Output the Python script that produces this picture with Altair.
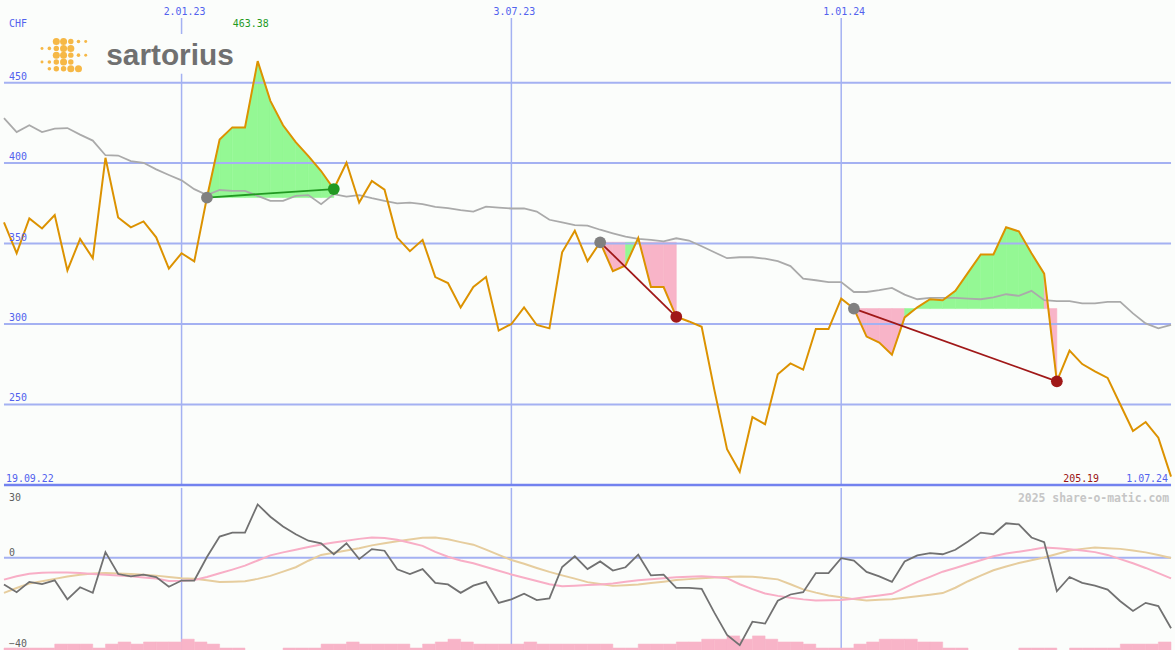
import altair as alt
import pandas as pd

# Weekly closes (CHF), one point per week
price = [363.1, 344.0, 365.6, 359.4, 367.7, 333.3, 352.9, 340.9, 403.3, 366.2,
         360.1, 363.8, 353.9, 334.4, 344.0, 338.9, 378.6, 414.6, 422.2, 422.2,
         463.38, 438.7, 423.5, 413.0, 404.3, 395.1, 383.9, 400.2, 375.5, 388.9,
         383.5, 353.7, 345.3, 352.3, 329.2, 325.5, 310.3, 323.0, 329.2, 295.9,
         300.0, 310.3, 299.4, 297.3, 344.6, 358.0, 339.1, 350.8, 332.9, 336.4,
         353.5, 323.0, 323.0, 304.5, 301.6, 298.3, 259.1, 222.2, 208.2, 242.2,
         237.7, 268.8, 275.5, 271.6, 296.9, 296.9, 315.8, 309.6, 292.2, 288.5,
         280.9, 304.1, 310.4, 315.4, 314.8, 320.6, 331.9, 343.2, 343.2, 360.1,
         357.6, 344.0, 331.3, 264.4, 283.5, 275.1, 270.6, 266.5, 250.0, 233.5,
         239.1, 229.4, 205.19]

# Moving average of the close
moving_avg = [428.0, 419.3, 423.5, 419.3, 421.4, 421.8, 417.7, 414.0, 404.9, 404.7,
              401.2, 400.2, 396.1, 392.6, 389.3, 383.8, 380.2, 383.3, 382.7, 382.7,
              379.6, 376.5, 376.5, 379.6, 380.1, 374.5, 380.7, 379.2, 380.1, 378.2,
              376.5, 375.0, 375.5, 374.5, 372.8, 372.0, 370.8, 369.9, 373.0, 372.4,
              371.8, 371.8, 369.9, 364.8, 363.1, 361.5, 361.1, 358.6, 356.4, 354.3,
              352.9, 352.3, 351.4, 353.3, 351.9, 348.3, 344.6, 340.9, 341.5, 341.5,
              340.6, 339.1, 336.0, 328.2, 327.2, 326.1, 326.1, 319.9, 319.9, 321.0,
              322.4, 318.3, 315.4, 316.2, 316.2, 316.2, 315.8, 315.4, 316.5, 318.5,
              317.5, 320.6, 314.8, 314.2, 314.2, 312.8, 312.8, 313.8, 313.8, 306.6,
              300.4, 297.3, 299.4]

# Momentum oscillator and its two smoothings
momentum = [-11.5, -14.8, -10.4, -11.3, -9.7, -17.9, -12.7, -15.1, 2.4, -7.0,
            -8.0, -7.3, -8.3, -12.5, -9.8, -9.8, 0.3, 9.1, 10.8, 10.8,
            22.9, 17.6, 13.4, 10.1, 7.3, 6.2, 1.5, 6.2, -0.6, 3.7,
            3.0, -5.0, -7.0, -4.9, -10.8, -11.5, -15.1, -12.0, -10.4, -19.4,
            -17.9, -15.5, -18.2, -17.5, -4.0, 0.6, -4.9, -1.6, -5.5, -4.1,
            1.3, -7.6, -7.3, -13.0, -13.0, -13.4, -23.6, -33.2, -37.6, -27.5,
            -28.3, -18.5, -15.8, -14.8, -6.6, -6.6, -0.2, -1.2, -6.1, -8.0,
            -10.4, -1.6, 1.0, 2.0, 1.5, 3.4, 7.0, 10.8, 10.1, 14.8,
            14.3, 8.7, 6.7, -14.4, -8.3, -10.8, -12.0, -13.7, -18.7, -22.9,
            -19.4, -20.8, -30.3]

smooth_fast = [-9.4, -8.0, -6.9, -6.5, -6.3, -6.4, -6.6, -7.0, -7.3, -7.6,
               -8.0, -8.5, -8.9, -10.0, -9.9, -9.6, -8.3, -6.7, -5.1, -3.4,
               -1.2, 1.0, 2.3, 3.4, 4.6, 5.7, 6.5, 7.3, 8.1, 8.7,
               8.5, 7.7, 6.4, 5.1, 2.5, 0.4, -1.2, -2.4, -4.0, -5.6,
               -7.2, -8.6, -10.0, -11.4, -12.3, -12.0, -11.7, -11.5, -11.1, -10.3,
               -9.7, -9.3, -8.8, -8.4, -8.2, -8.0, -8.3, -8.8, -11.4, -13.5,
               -15.4, -16.4, -17.2, -17.9, -18.4, -18.3, -18.2, -17.6, -16.9, -16.2,
               -15.5, -13.0, -10.4, -8.2, -6.0, -4.4, -2.7, -1.1, 0.6, 1.8,
               2.6, 3.4, 4.4, 4.1, 3.6, 3.1, 2.4, 1.2, -0.6, -2.4,
               -4.4, -6.6, -8.9]

smooth_slow = [-15.1, -13.0, -11.1, -10.1, -9.1, -8.1, -7.3, -6.8, -6.6, -6.8,
               -7.0, -7.3, -7.7, -8.3, -8.8, -9.0, -9.7, -10.4, -10.3, -10.1,
               -9.1, -7.8, -6.0, -4.1, -1.3, 1.2, 2.1, 3.1, 4.1, 5.3,
               6.2, 7.1, 7.8, 8.6, 8.7, 7.9, 6.7, 5.6, 3.5, 1.2,
               -1.0, -2.6, -4.4, -6.1, -7.6, -9.0, -10.5, -11.3, -12.1, -11.8,
               -11.5, -10.9, -10.3, -9.6, -9.2, -8.8, -8.5, -8.3, -8.1, -8.2,
               -8.7, -9.3, -11.4, -13.6, -15.0, -16.2, -17.0, -17.8, -18.4, -18.1,
               -17.8, -17.2, -16.6, -15.9, -15.2, -12.9, -10.1, -7.7, -5.4, -3.8,
               -2.3, -1.1, 0.1, 1.6, 3.1, 3.8, 4.4, 4.1, 3.8, 3.1,
               2.3, 1.2, -0.1]

# Weekly volume histogram (panel units above the floor)
volume = [1.2, 1.2, 1.2, 1.2, 2.9, 2.9, 2.9, 1.2, 2.9, 3.8,
          2.9, 3.8, 3.8, 3.8, 5.0, 3.8, 2.9, 1.2, 1.2, 0.0,
          0.0, 0.0, 1.2, 1.2, 1.2, 2.9, 2.9, 3.8, 2.9, 2.9,
          2.9, 2.9, 1.2, 2.9, 3.8, 5.0, 3.8, 2.9, 2.9, 2.9,
          2.9, 3.8, 2.9, 2.9, 2.9, 2.9, 2.9, 2.9, 1.2, 1.2,
          2.9, 2.9, 2.9, 3.8, 3.8, 5.0, 5.0, 6.4, 5.0, 6.4,
          5.0, 3.8, 3.8, 2.9, 1.2, 1.2, 1.2, 2.9, 3.8, 5.0,
          5.0, 5.0, 3.8, 3.8, 1.2, 1.2, 0.0, 0.0, 0.0, 0.0,
          1.2, 1.2, 1.2, 0.0, 1.2, 1.2, 1.2, 1.2, 2.9, 2.9,
          2.9, 3.8]

# Trades: week index of entry and exit
entries = [16, 47, 67]
exits = [26, 53, 83]

price_ticks = [250, 300, 350, 400, 450]
osc_ticks = [30, 0, -40]
date_idx = [14, 40, 66]
date_labels = ["2.01.23", "3.07.23", "1.01.24"]
start_label = "19.09.22"
end_label = "1.07.24"
currency = "CHF"
brand = "sartorius"
credit = "2025 share-o-matic.com"

W, H_TOP, H_BOT = 1175, 486, 164
N = len(price)
MONO = "DejaVu Sans Mono"
GRID = "#a4b1f2"
LABEL_BLUE = "#5262ee"
GREEN_FILL, PINK_FILL = "#94f894", "#f8b4c8"
WIN, LOSS, ENTRY = "#229922", "#a01818", "#808080"

xs = alt.Scale(domain=[0, N - 1], nice=False, zero=False)
ys_top = alt.Scale(domain=[200, 500], nice=False, zero=False)
ys_bot = alt.Scale(domain=[-40, 30], nice=False, zero=False)

# One shared colour scale for every categorical colour in the price panel
palette = alt.Scale(domain=["up", "down", "win", "loss", "entry"],
                    range=[GREEN_FILL, PINK_FILL, WIN, LOSS, ENTRY])

series = pd.DataFrame({
    "i": list(range(N)), "price": price, "ma": moving_avg,
    "mom": momentum, "fast": smooth_fast, "slow": smooth_slow,
})

# Profit/loss shading between the price and each trade's entry level, per weekly segment
seg_rows = []
trade_rows = []
marker_rows = []
for t, (e, x) in enumerate(zip(entries, exits)):
    level = price[e]
    for i in range(e, x):
        side = "up" if price[i + 1] > level else "down"
        key = f"{t}-{i}"
        seg_rows.append({"seg": key, "i": i, "p": price[i], "L": level, "side": side})
        seg_rows.append({"seg": key, "i": i + 1, "p": price[i + 1], "L": level, "side": side})
    result = "win" if price[x] > price[e] else "loss"
    trade_rows.append({"t": t, "i": e, "p": price[e], "res": result})
    trade_rows.append({"t": t, "i": x, "p": price[x], "res": result})
    marker_rows.append({"i": e, "p": price[e], "kind": "entry"})
    marker_rows.append({"i": x, "p": price[x], "kind": result})
segs = pd.DataFrame(seg_rows)
trades = pd.DataFrame(trade_rows)
markers = pd.DataFrame(marker_rows)

X = alt.X("i:Q", scale=xs, axis=None)

fills = alt.Chart(segs).mark_area(strokeWidth=0.6, opacity=1).encode(
    x=X,
    y=alt.Y("p:Q", scale=ys_top, axis=None, stack=None),
    y2="L:Q",
    detail="seg:N",
    color=alt.Color("side:N", scale=palette, legend=None),
    stroke=alt.Stroke("side:N", scale=alt.Scale(domain=["up", "down"], range=[GREEN_FILL, PINK_FILL]), legend=None),
)

hgrid_df = pd.DataFrame({"v": price_ticks})
hgrid = alt.Chart(hgrid_df).mark_rule(color=GRID, strokeWidth=2).encode(
    y=alt.Y("v:Q", scale=ys_top, axis=None), x=alt.value(0), x2=alt.value(W))
hlabels = alt.Chart(hgrid_df).mark_text(
    align="left", baseline="alphabetic", dy=-3, font=MONO, fontSize=10, color=LABEL_BLUE
).encode(y=alt.Y("v:Q", scale=ys_top, axis=None), x=alt.value(5), text="v:Q")

dates_df = pd.DataFrame({"i": date_idx, "lab": date_labels})
vgrid_top = alt.Chart(dates_df).mark_rule(color=GRID, strokeWidth=1.5).encode(
    x=X, y=alt.value(16), y2=alt.value(H_TOP))
vlabels = alt.Chart(dates_df).mark_text(
    align="center", baseline="alphabetic", dx=3, font=MONO, fontSize=10, color=LABEL_BLUE
).encode(x=X, y=alt.value(12.5), text="lab:N")

border = alt.Chart(pd.DataFrame({"v": [200]})).mark_rule(color="#7282ef", strokeWidth=2.5).encode(
    y=alt.Y("v:Q", scale=ys_top, axis=None), x=alt.value(0), x2=alt.value(W))

ma_line = alt.Chart(series).mark_line(color="#aaaaaa", strokeWidth=1.8).encode(
    x=X, y=alt.Y("ma:Q", scale=ys_top, axis=None))
price_line = alt.Chart(series).mark_line(color="#dc9200", strokeWidth=2).encode(
    x=X, y=alt.Y("price:Q", scale=ys_top, axis=None))

trade_lines = alt.Chart(trades).mark_line(strokeWidth=1.8).encode(
    x=X, y=alt.Y("p:Q", scale=ys_top, axis=None), detail="t:N",
    color=alt.Color("res:N", scale=palette, legend=None))
trade_marks = alt.Chart(markers).mark_circle(opacity=1, size=140).encode(
    x=X, y=alt.Y("p:Q", scale=ys_top, axis=None),
    color=alt.Color("kind:N", scale=palette, legend=None))

hi = max(price)
lo = min(price)
hi_label = alt.Chart(pd.DataFrame({"i": [price.index(hi)], "t": [f"{hi:.2f}"]})).mark_text(
    align="center", baseline="alphabetic", dx=-7, font=MONO, fontSize=10, color="#1f9a1f"
).encode(x=X, y=alt.value(25), text="t:N")
lo_label = alt.Chart(pd.DataFrame({"t": [f"{lo:.2f}"]})).mark_text(
    align="center", baseline="alphabetic", font=MONO, fontSize=10, color="#9a1414"
).encode(x=alt.value(1084.5), y=alt.value(483), text="t:N")

range_df = pd.DataFrame({"t": [start_label, end_label]})
start_text = alt.Chart(range_df.iloc[:1]).mark_text(
    align="left", baseline="alphabetic", font=MONO, fontSize=10, color=LABEL_BLUE
).encode(x=alt.value(2), y=alt.value(483), text="t:N")
end_text = alt.Chart(range_df.iloc[1:]).mark_text(
    align="right", baseline="alphabetic", font=MONO, fontSize=10, color=LABEL_BLUE
).encode(x=alt.value(1172), y=alt.value(483), text="t:N")
chf_text = alt.Chart(pd.DataFrame({"t": [currency]})).mark_text(
    align="left", baseline="alphabetic", font=MONO, fontSize=10, color=LABEL_BLUE
).encode(x=alt.value(5), y=alt.value(24.5), text="t:N")

# Brand logo: backing box, dotted emblem and wordmark
logo_box = alt.Chart(pd.DataFrame({"t": [brand]})).mark_rect(color="#fbfdfb").encode(
    x=alt.value(30), x2=alt.value(240), y=alt.value(32), y2=alt.value(72))
dot_rows = [
    (52.7, 39.5, 50), (60, 39.5, 50), (67.3, 39.5, 30), (75, 39.5, 13), (82.3, 39.5, 9),
    (38.3, 46.5, 9), (45.7, 46.5, 13), (52.7, 46.5, 30), (60, 46.5, 50), (67.3, 46.5, 50),
    (52.7, 53.3, 50), (60, 53.3, 50), (67.3, 53.3, 30), (75, 53.3, 13), (82.3, 53.3, 9),
    (38.3, 60.2, 9), (45.7, 60.2, 13), (52.7, 60.2, 30), (60, 60.2, 50), (67.3, 60.2, 30),
    (45.7, 67, 13), (52.7, 67, 30), (60, 67, 30), (67.3, 67, 50), (75, 67, 50),
]
dots = pd.DataFrame(dot_rows, columns=["px", "py", "s"])
logo_dots = alt.Chart(dots).mark_circle(color="#f6b846", opacity=1).encode(
    x=alt.X("px:Q", scale=None, axis=None), y=alt.Y("py:Q", scale=None, axis=None),
    size=alt.Size("s:Q", scale=None, legend=None))
logo_word = alt.Chart(pd.DataFrame({"t": [brand]})).mark_text(
    align="left", baseline="alphabetic", font="Liberation Sans", fontSize=30,
    fontWeight="bold", color="#707070"
).encode(x=alt.value(103), y=alt.value(63), text="t:N")

top = alt.layer(
    fills, hgrid, vgrid_top, border, ma_line, price_line, trade_lines, trade_marks,
    hlabels, vlabels, hi_label, lo_label, start_text, end_text, chf_text,
    logo_box, logo_dots, logo_word,
).properties(width=W, height=H_TOP)

# Lower panel: oscillator with volume floor
vgrid_bot = alt.Chart(dates_df).mark_rule(color=GRID, strokeWidth=1.5).encode(
    x=X, y=alt.value(0), y2=alt.value(H_BOT))
zero_line = alt.Chart(pd.DataFrame({"v": [0]})).mark_rule(color=GRID, strokeWidth=2).encode(
    y=alt.Y("v:Q", scale=ys_bot, axis=None), x=alt.value(0), x2=alt.value(W))
vol_df = pd.DataFrame({"i": list(range(len(volume))), "vol": volume})
vol_bars = alt.Chart(vol_df).transform_calculate(
    i2="datum.i + 1", base="-40", top="-40 + datum.vol"
).mark_rect(color="#f8b4c8", stroke="#f8b4c8", strokeWidth=0.5).encode(
    x=X, x2="i2:Q", y=alt.Y("base:Q", scale=ys_bot, axis=None), y2="top:Q")
slow_line = alt.Chart(series).mark_line(color="#e6cd9e", strokeWidth=2).encode(
    x=X, y=alt.Y("slow:Q", scale=ys_bot, axis=None))
fast_line = alt.Chart(series).mark_line(color="#f8aec6", strokeWidth=2).encode(
    x=X, y=alt.Y("fast:Q", scale=ys_bot, axis=None))
mom_line = alt.Chart(series).mark_line(color="#717171", strokeWidth=1.8).encode(
    x=X, y=alt.Y("mom:Q", scale=ys_bot, axis=None))

osc_df = pd.DataFrame({"v": osc_ticks})
osc_top_label = alt.Chart(osc_df.iloc[:1]).mark_text(
    align="left", baseline="alphabetic", dy=13, font=MONO, fontSize=10, color="#606060"
).encode(y=alt.Y("v:Q", scale=ys_bot, axis=None), x=alt.value(5), text="v:Q")
osc_zero_label = alt.Chart(osc_df.iloc[1:2]).mark_text(
    align="left", baseline="alphabetic", dy=-2, font=MONO, fontSize=10, color="#606060"
).encode(y=alt.Y("v:Q", scale=ys_bot, axis=None), x=alt.value(5), text="v:Q")
osc_low_label = alt.Chart(osc_df.iloc[2:]).mark_text(
    align="left", baseline="alphabetic", dy=-4, font=MONO, fontSize=10, color="#606060"
).encode(y=alt.Y("v:Q", scale=ys_bot, axis=None), x=alt.value(5), text="v:Q")
credit_text = alt.Chart(pd.DataFrame({"t": [credit]})).mark_text(
    align="right", baseline="alphabetic", font=MONO, fontSize=11.5, fontWeight="bold", color="#c6c6c6"
).encode(x=alt.value(1173), y=alt.value(14), text="t:N")

bottom = alt.layer(
    vgrid_bot, zero_line, vol_bars, slow_line, fast_line, mom_line,
    osc_top_label, osc_zero_label, osc_low_label, credit_text,
).properties(width=W, height=H_BOT)

chart = alt.vconcat(top, bottom, spacing=0).properties(
    padding=0, background="#fbfdfb"
).configure_view(stroke=None).configure_concat(spacing=0)

chart.save("out.html", embed_options={"renderer": "svg", "actions": False})
